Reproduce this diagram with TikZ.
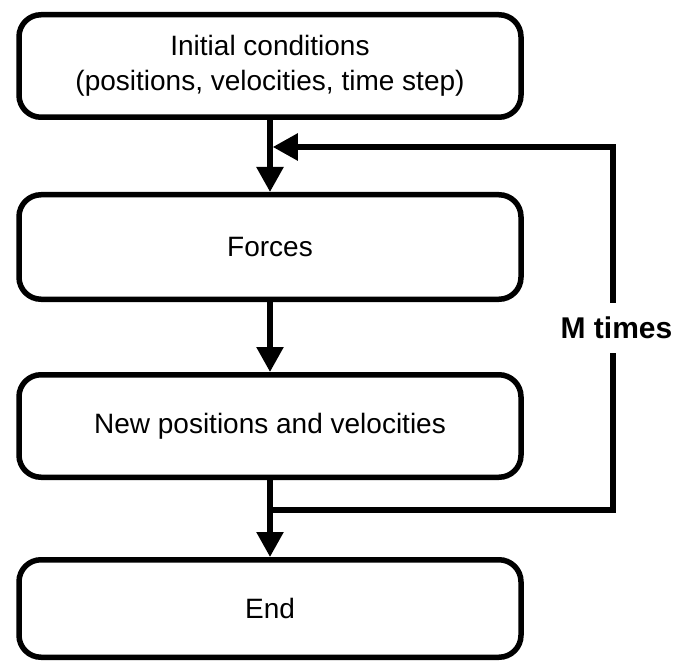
\documentclass[tikz,border=0pt]{standalone}
\usepackage{fontspec}
\setmainfont{Liberation Sans}
\usetikzlibrary{positioning}
\usetikzlibrary{arrows.meta}

\begin{document}
\begin{tikzpicture}[
            > = {Triangle[length=25pt,width=26pt]}, % arrow head style
            line width = 5.5pt, % thick lines everywhere
            node distance = 72pt, % distance between boxes
            font = \fontsize{28}{35}\selectfont
        ]

        \tikzstyle{box}=[
            draw,
            rounded corners = 22pt,
            minimum width = 502pt,
            minimum height = 102.5pt,
            align = center
        ]

        \useasboundingbox (0,0) rectangle (676pt,-660pt);

        % steps
        \node[box] (IC) at (270pt,-66pt) {Initial conditions\\(positions, velocities, time step)};
        \node[box] (F) [below = 72pt of IC, minimum height = 104.5pt] {Forces};
        \node[box] (NP) [below = 70pt of F] {New positions and velocities};
        \node[box] (E) [below = 77pt of NP, minimum height = 97.5pt] {End};

        \draw[->] (IC.south) -- (F.north);
        \draw[->] (F.south) -- (NP.north);
        \draw[->] (NP.south) -- (E.north);

        % loop back
        \coordinate[below = 27pt of IC] (in);
        \coordinate[below = 30pt of NP] (out);
        \coordinate (R) at (613pt,-328pt);

        \draw[->] (out) -| (R) |- ([xshift=2.75pt]in);
        \node[fill = white, font = \fontsize{30}{36}\selectfont\bfseries,
              inner xsep = 1pt, inner ysep = 14pt, xshift = 3.5pt] (M) at (R) {M times};

\end{tikzpicture}
\end{document}
